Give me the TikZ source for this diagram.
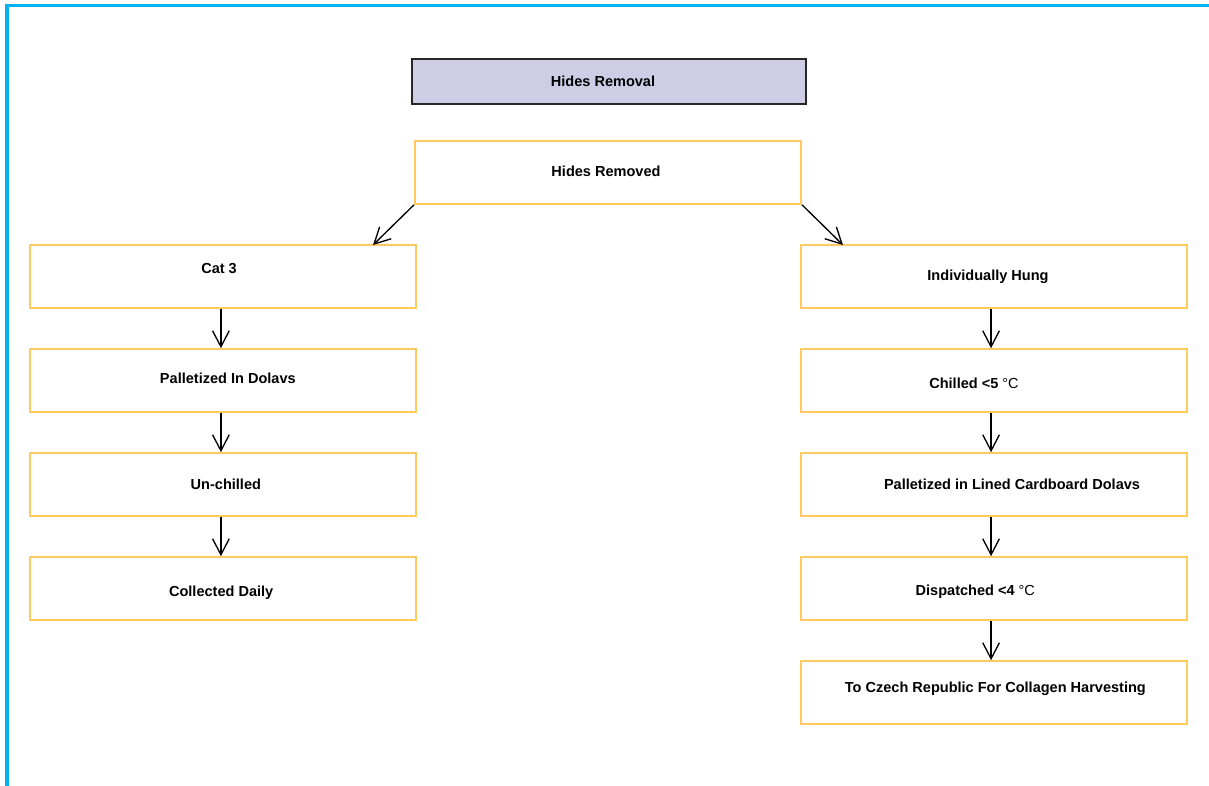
\documentclass[tikz,border=0pt]{standalone}
\usepackage{fontspec}
\setmainfont{Liberation Sans}
\usetikzlibrary{arrows.meta}
\definecolor{frameblue}{HTML}{00B2F0}
\definecolor{boxorange}{HTML}{FFC95E}
\definecolor{headfill}{HTML}{CFCCE6}
\tikzset{
  stepbox/.style={draw=boxorange, line width=1.5pt, minimum width=289.5pt, minimum height=47pt, inner sep=0pt},
  headbox/.style={draw=black!85, fill=headfill, line width=1.1pt, minimum width=295.5pt, minimum height=33.75pt, inner sep=0pt},
  lbl/.style={font=\fontsize{10.9}{13}\selectfont\bfseries, inner sep=0pt},
  flow/.style={draw=black, line width=1pt, -{Straight Barb[length=12pt,width=12.5pt]}},
}
\newcommand{\degC}{ {\mdseries °C}}
\begin{document}
\begin{tikzpicture}[x=0.75pt,y=-0.75pt]
\useasboundingbox (0,0) rectangle (1209,785);
% page frame
\draw[frameblue, line width=2.4pt] (7,790) -- (7,5.5) -- (1215,5.5);

% header and root step
\node[headbox, label={[lbl,xshift=-4.5pt]center:Hides Removal}] (head) at (609,81.5) {};
\node[stepbox, label={[lbl,xshift=-1.5pt,yshift=1pt]center:Hides Removed}] (root) at (608,172.5) {};

% left branch
\node[stepbox, label={[lbl,xshift=-2.6pt,yshift=6pt]center:Cat 3}] (l1) at (222.5,276.5) {};
\node[stepbox, label={[lbl,xshift=4pt,yshift=2pt]center:Palletized In Dolavs}] (l2) at (222.5,380.5) {};
\node[stepbox, label={[lbl,xshift=2.5pt]center:Un-chilled}] (l3) at (222.5,484.5) {};
\node[stepbox, label={[lbl,xshift=-1pt,yshift=-3.5pt]center:Collected Daily}] (l4) at (222.5,588.5) {};

% right branch
\node[stepbox, label={[lbl,xshift=-4.5pt,yshift=-0.5pt]center:Individually Hung}] (r1) at (994,276.5) {};
\node[stepbox, label={[lbl,xshift=-15pt,yshift=-2pt]center:Chilled <5\degC}] (r2) at (994,380.5) {};
\node[stepbox, label={[lbl,xshift=13.5pt]center:Palletized in Lined Cardboard Dolavs}] (r3) at (994,484.5) {};
\node[stepbox, label={[lbl,xshift=-14pt,yshift=-2.5pt]center:Dispatched <4\degC}] (r4) at (994,588.5) {};
\node[stepbox, label={[lbl,xshift=1pt,yshift=3pt]center:To Czech Republic For Collagen Harvesting}] (r5) at (994,692.5) {};

% connectors
\coordinate (tipL) at (373,245);
\coordinate (tipR) at (843,245);
\draw[flow] (root.south west) -- (tipL);
\draw[flow] (root.south east) -- (tipR);

\draw[flow] ([xshift=-1.2pt]l1.south) -- ([xshift=-1.2pt]l2.north);
\draw[flow] ([xshift=-1.2pt]l2.south) -- ([xshift=-1.2pt]l3.north);
\draw[flow] ([xshift=-1.2pt]l3.south) -- ([xshift=-1.2pt]l4.north);

\draw[flow] ([xshift=-2.2pt]r1.south) -- ([xshift=-2.2pt]r2.north);
\draw[flow] ([xshift=-2.2pt]r2.south) -- ([xshift=-2.2pt]r3.north);
\draw[flow] ([xshift=-2.2pt]r3.south) -- ([xshift=-2.2pt]r4.north);
\draw[flow] ([xshift=-2.2pt]r4.south) -- ([xshift=-2.2pt]r5.north);
\end{tikzpicture}
\end{document}
